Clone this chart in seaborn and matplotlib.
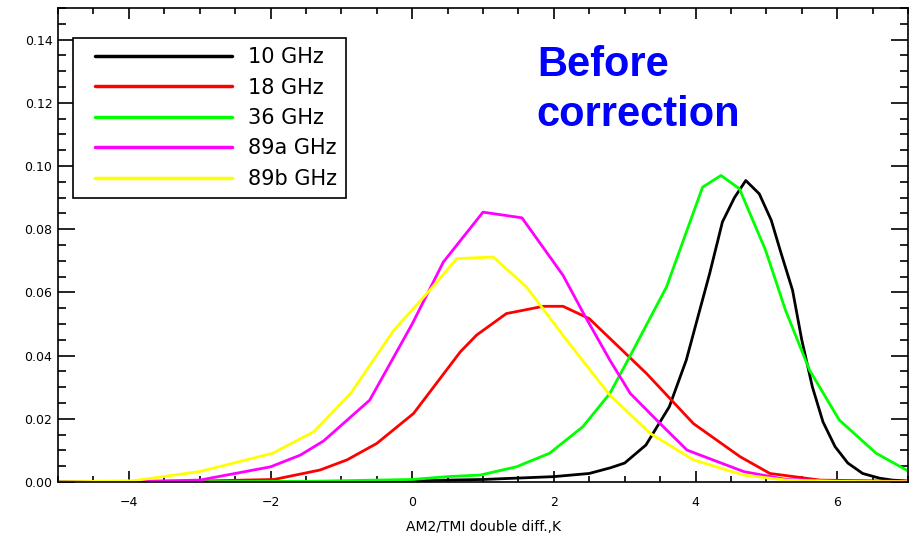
import matplotlib
matplotlib.use("Agg")
import matplotlib.pyplot as plt
from matplotlib.ticker import MultipleLocator
from matplotlib.legend_handler import HandlerLine2D
import pandas as pd
import seaborn as sns

# values (histogram density vs double difference, K)
BANDS = ["10 GHz", "18 GHz", "36 GHz", "89a GHz", "89b GHz"]
COLORS = ["black", "red", "#00ff00", "#ff00ff", "#ffff00"]

x_10 = [-5, -1.5, 0, 1, 2, 2.5, 2.8, 3.0, 3.3, 3.63, 3.87, 4.06, 4.2, 4.38, 4.55, 4.71,
        4.9, 5.07, 5.2, 5.37, 5.5, 5.65, 5.8, 5.97, 6.15, 6.36, 6.6, 6.78, 7]
y_10 = [0, 0, 0.0004, 0.0008, 0.0017, 0.0027, 0.0045, 0.006, 0.0117, 0.0238, 0.0386, 0.0544,
        0.066, 0.0823, 0.090, 0.0954, 0.0912, 0.0828, 0.073, 0.0607, 0.045, 0.0301, 0.019,
        0.0112, 0.006, 0.0027, 0.0012, 0.0006, 0.0003]

x_18 = [-5, -3, -1.95, -1.3, -0.92, -0.5, 0.02, 0.68, 0.91, 1.33, 1.85, 2.13, 2.5, 3.31,
        3.97, 4.63, 5.05, 5.76, 7]
y_18 = [0, 0.0003, 0.0008, 0.0038, 0.007, 0.0122, 0.0217, 0.0412, 0.0465, 0.0533, 0.0556,
        0.0556, 0.0517, 0.0343, 0.0185, 0.008, 0.0027, 0.0006, 0.0002]

x_36 = [-5, -1.5, 0, 0.5, 0.96, 1.47, 1.94, 2.41, 2.79, 3.07, 3.59, 4.1, 4.36, 4.62, 4.99,
        5.27, 5.61, 6.03, 6.55, 7]
y_36 = [0, 0.0002, 0.0008, 0.0017, 0.0022, 0.0048, 0.0091, 0.0175, 0.028, 0.0396, 0.0617,
        0.0933, 0.097, 0.0928, 0.0733, 0.0544, 0.0354, 0.0196, 0.0091, 0.0035]

x_89a = [-5, -4, -3, -2.0, -1.58, -1.25, -0.6, 0.0, 0.44, 1.0, 1.55, 2.13, 2.42, 2.79, 3.08,
         3.5, 3.88, 4.68, 5.28, 6, 7]
y_89a = [0, 0.0001, 0.0006, 0.0048, 0.0085, 0.013, 0.0259, 0.050, 0.0696, 0.0854, 0.0836,
         0.0654, 0.0533, 0.0386, 0.028, 0.0185, 0.0101, 0.0033, 0.0008, 0.0003, 0.0001]

x_89b = [-5, -3.94, -3, -1.97, -1.39, -0.87, -0.26, 0.25, 0.63, 1.145, 1.615, 2.18, 2.79,
         3.36, 3.97, 4.68, 5.28, 6, 7]
y_89b = [0, 0.0004, 0.0033, 0.0091, 0.0159, 0.028, 0.048, 0.0607, 0.0707, 0.0712, 0.0617,
         0.0449, 0.0275, 0.0154, 0.007, 0.0022, 0.0006, 0.0002, 0.0001]

series = [(x_10, y_10), (x_18, y_18), (x_36, y_36), (x_89a, y_89a), (x_89b, y_89b)]
frames = []
for band, (xs, ys) in zip(BANDS, series):
    frames.append(pd.DataFrame({"diff": xs, "density": ys, "band": band}))
df = pd.concat(frames, ignore_index=True)

sns.set_style("ticks")
plt.rcParams["font.family"] = ["DejaVu Sans"]
plt.rcParams["text.color"] = "black"
plt.rcParams["axes.labelcolor"] = "black"
plt.rcParams["xtick.color"] = "black"
plt.rcParams["ytick.color"] = "black"

fig = plt.figure(figsize=(9.14, 5.40), dpi=100)
ax = fig.add_axes([58 / 914, 58 / 540, 850 / 914, 474 / 540])

sns.lineplot(data=df, x="diff", y="density", hue="band", palette=COLORS,
             estimator=None, sort=False, linewidth=2.0, ax=ax)

ax.set_xlim(-5, 7)
ax.set_ylim(0, 0.15)
ax.xaxis.set_major_locator(MultipleLocator(2))
ax.xaxis.set_minor_locator(MultipleLocator(0.5))
ax.yaxis.set_major_locator(MultipleLocator(0.02))
ax.yaxis.set_minor_locator(MultipleLocator(0.005))
ax.yaxis.set_major_formatter(lambda v, p: "%.2f" % v)
ax.tick_params(axis="both", which="both", direction="in", top=True, right=True,
               width=1.2, labelsize=9)
ax.tick_params(axis="x", which="major", length=8, pad=10)
ax.tick_params(axis="x", which="minor", length=4.5)
ax.tick_params(axis="y", which="major", length=12, pad=4)
ax.tick_params(axis="y", which="minor", length=6)
for sp in ax.spines.values():
    sp.set_linewidth(1.2)
    sp.set_color("black")

ax.set_xlabel("AM2/TMI double diff.,K", fontsize=10, labelpad=8)
ax.set_ylabel("")

handles, labels = ax.get_legend_handles_labels()
leg = ax.legend(handles, labels, loc="upper left", bbox_to_anchor=(0.0176, 0.9367),
                borderaxespad=0, fontsize=15, handlelength=7.2, handletextpad=0.77,
                labelspacing=0.5, borderpad=0.44, fancybox=False, framealpha=1,
                edgecolor="black", handler_map={h: HandlerLine2D(xpad=0.62) for h in handles})
leg.get_frame().set_linewidth(1.2)
for ln in leg.get_lines():
    ln.set_linewidth(2.5)

ax.text(1.76, 0.1286, "Before", color="#0000ff", fontsize=30, fontweight="bold",
        family=["Liberation Sans", "DejaVu Sans"], va="baseline")
ax.text(1.76, 0.1125, "correction", color="#0000ff", fontsize=30, fontweight="bold",
        family=["Liberation Sans", "DejaVu Sans"], va="baseline")

fig.savefig("out.png", dpi=100)
